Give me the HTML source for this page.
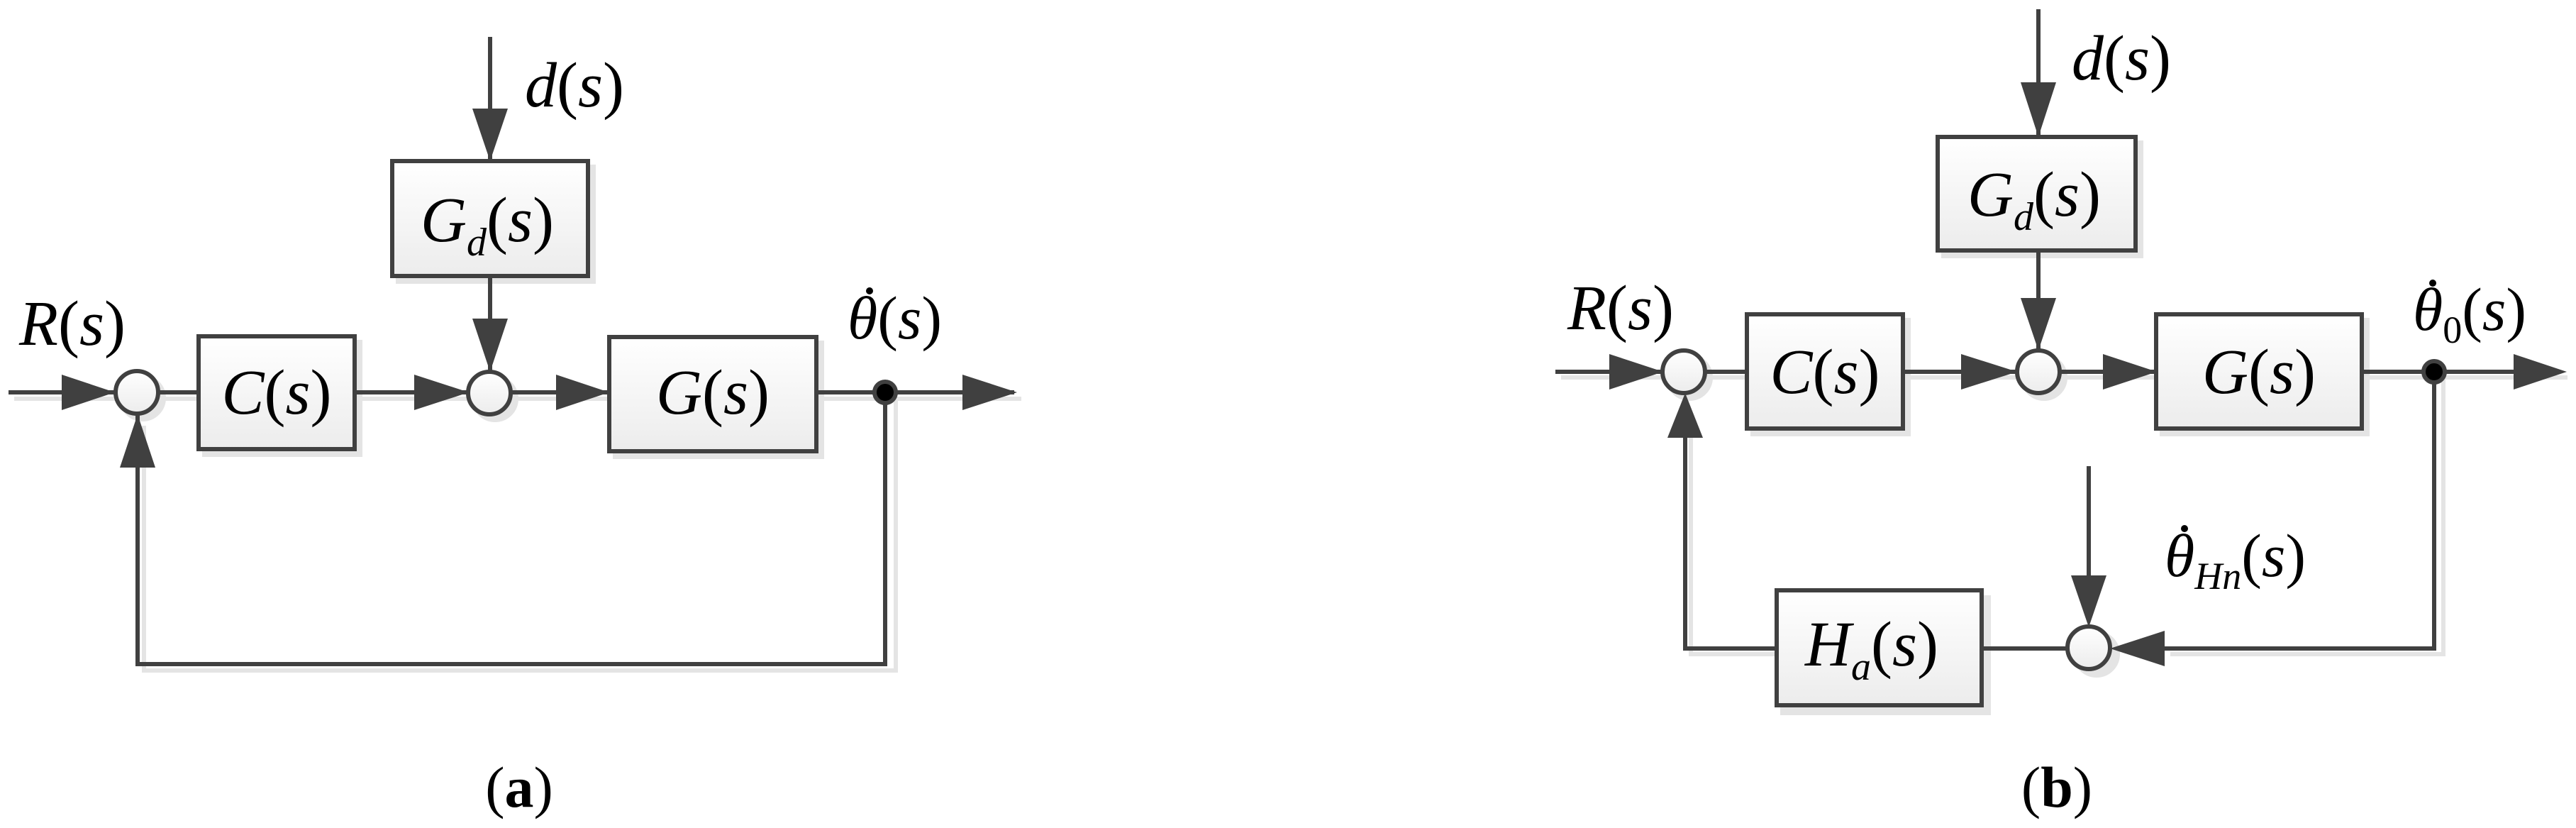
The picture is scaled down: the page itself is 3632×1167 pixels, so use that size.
<!DOCTYPE html>
<html><head><meta charset="utf-8"><style>
html,body{margin:0;padding:0;background:#fff}
svg{display:block}
svg text, svg tspan{font-family:"Liberation Serif","Times New Roman",Times,serif !important;fill:#000}
.i{font-style:italic}
</style></head><body>
<svg width="3632" height="1167" viewBox="0 0 3632 1167" xmlns="http://www.w3.org/2000/svg">
<defs>
<linearGradient id="g" x1="0" y1="0" x2="0" y2="1"><stop offset="0" stop-color="#ffffff"/><stop offset="1" stop-color="#ececec"/></linearGradient>
</defs>

<g fill="#e4e4e4" stroke="#e4e4e4" stroke-width="6">
<rect x="288" y="482" width="220" height="159"/>
<rect x="561" y="235" width="276" height="162"/>
<rect x="867" y="483" width="292" height="161"/>
<circle cx="201" cy="561" r="30"/>
<circle cx="698" cy="562" r="30"/>
<polyline fill="none" points="20,562 1440,562"/>
<polyline fill="none" points="1263,562 1263,945 203,945 203,600"/>
</g>

<g stroke="#404040" stroke-width="6" fill="none">
<line x1="12" y1="553" x2="163" y2="553"/>
<line x1="223" y1="553" x2="280" y2="553"/>
<line x1="500" y1="553" x2="660" y2="553"/>
<line x1="720" y1="553" x2="859" y2="553"/>
<line x1="1151" y1="553" x2="1430" y2="553"/>
<line x1="691" y1="52" x2="691" y2="227"/>
<line x1="691" y1="389" x2="691" y2="523"/>
<polyline points="1248,553 1248,936 194,936 194,585"/>
</g>
<g fill="#404040">
<polygon points="87,528 162,553 87,578"/>
<polygon points="584,528 661,553 584,578"/>
<polygon points="784,528 859,553 784,578"/>
<polygon points="1357,528 1434,553 1357,578"/>
<polygon points="666,153 691,227 716,153"/>
<polygon points="666,449 691,524 716,449"/>
<polygon points="169,659 194,584 219,659"/>
</g>
<g stroke="#404040" stroke-width="6" fill="url(#g)">
<rect x="280" y="474" width="220" height="159"/>
<rect x="553" y="227" width="276" height="162"/>
<rect x="859" y="475" width="292" height="161"/>
<circle cx="193" cy="553" r="30"/>
<circle cx="690" cy="554" r="30"/>
</g>
<circle cx="1248" cy="553" r="15" fill="#000" stroke="#404040" stroke-width="6"/>

<g font-family="Liberation Serif, Times New Roman, serif">
<text x="27" y="486" font-size="90"><tspan class="i">R</tspan>(<tspan class="i">s</tspan>)</text>
<text x="390" y="583" font-size="90" text-anchor="middle"><tspan class="i">C</tspan>(<tspan class="i">s</tspan>)</text>
<text x="1005" y="583" font-size="90" text-anchor="middle"><tspan class="i">G</tspan>(<tspan class="i">s</tspan>)</text>
<text x="740" y="150" font-size="90"><tspan class="i">d</tspan>(<tspan class="i">s</tspan>)</text>
<text x="593" y="340" font-size="90"><tspan class="i">G</tspan><tspan class="i" font-size="56" dy="20">d</tspan><tspan dy="-20">(</tspan><tspan class="i">s</tspan>)</text>
<text x="1195" y="477" font-size="86"><tspan class="i">θ</tspan>(<tspan class="i">s</tspan>)</text>
<text x="732" y="1137" font-size="82" text-anchor="middle">(<tspan font-weight="bold">a</tspan>)</text>
</g>
<circle cx="1226" cy="410" r="5" fill="#000"/>

<g fill="#e4e4e4" stroke="#e4e4e4" stroke-width="6">
<rect x="2471" y="451" width="220" height="161"/>
<rect x="2740" y="201" width="279" height="160"/>
<rect x="3048" y="451" width="290" height="161"/>
<rect x="2513" y="842" width="291" height="163"/>
<circle cx="2382" cy="532" r="30"/>
<circle cx="2882" cy="532" r="30"/>
<circle cx="2956" cy="922" r="30"/>
<polyline fill="none" points="2201,532 3620,532"/>
<polyline fill="none" points="3445,532 3445,922 3060,922"/>
<polyline fill="none" points="2513,922 2384,922 2384,590"/>
</g>

<g stroke="#404040" stroke-width="6" fill="none">
<line x1="2193" y1="524" x2="2344" y2="524"/>
<line x1="2404" y1="524" x2="2463" y2="524"/>
<line x1="2683" y1="524" x2="2844" y2="524"/>
<line x1="2904" y1="524" x2="3040" y2="524"/>
<line x1="3330" y1="524" x2="3610" y2="524"/>
<line x1="2874" y1="13" x2="2874" y2="193"/>
<line x1="2874" y1="353" x2="2874" y2="494"/>
<polyline points="3432,524 3432,914 3040,914"/>
<line x1="2945" y1="657" x2="2945" y2="812"/>
<line x1="2915" y1="914" x2="2796" y2="914"/>
<polyline points="2505,914 2376,914 2376,615"/>
</g>
<g fill="#404040">
<polygon points="2269,499 2345,524 2269,549"/>
<polygon points="2765,499 2844,524 2765,549"/>
<polygon points="2965,499 3041,524 2965,549"/>
<polygon points="3544,499 3619,524 3544,549"/>
<polygon points="2849,116 2874,193 2899,116"/>
<polygon points="2849,420 2874,494 2899,420"/>
<polygon points="2920,811 2945,884 2970,811"/>
<polygon points="3052,889 2975,914 3052,939"/>
<polygon points="2351,617 2376,554 2401,617"/>
</g>
<g stroke="#404040" stroke-width="6" fill="url(#g)">
<rect x="2463" y="443" width="220" height="161"/>
<rect x="2732" y="193" width="279" height="160"/>
<rect x="3040" y="443" width="290" height="161"/>
<rect x="2505" y="832" width="289" height="162"/>
<circle cx="2374" cy="524" r="30"/>
<circle cx="2874" cy="524" r="30"/>
<circle cx="2945" cy="913" r="30"/>
</g>
<circle cx="3432" cy="524" r="15" fill="#000" stroke="#404040" stroke-width="6"/>

<g font-family="Liberation Serif, Times New Roman, serif">
<text x="2210" y="464" font-size="90"><tspan class="i">R</tspan>(<tspan class="i">s</tspan>)</text>
<text x="2573" y="554" font-size="90" text-anchor="middle"><tspan class="i">C</tspan>(<tspan class="i">s</tspan>)</text>
<text x="3185" y="554" font-size="90" text-anchor="middle"><tspan class="i">G</tspan>(<tspan class="i">s</tspan>)</text>
<text x="2921" y="112" font-size="90"><tspan class="i">d</tspan>(<tspan class="i">s</tspan>)</text>
<text x="2774" y="304" font-size="90"><tspan class="i">G</tspan><tspan class="i" font-size="56" dy="20">d</tspan><tspan dy="-20">(</tspan><tspan class="i">s</tspan>)</text>
<text x="2545" y="938" font-size="90"><tspan class="i">H</tspan><tspan class="i" font-size="56" dy="20">a</tspan><tspan dy="-20">(</tspan><tspan class="i">s</tspan>)</text>
<text x="3402" y="465" font-size="86"><tspan class="i">θ</tspan><tspan font-size="54" dy="18">0</tspan><tspan dy="-18">(</tspan><tspan class="i">s</tspan>)</text>
<text x="3052" y="812" font-size="86"><tspan class="i">θ</tspan><tspan class="i" font-size="54" dy="18">Hn</tspan><tspan dy="-18">(</tspan><tspan class="i">s</tspan>)</text>
<text x="2900" y="1137" font-size="82" text-anchor="middle">(<tspan font-weight="bold">b</tspan>)</text>
</g>
<circle cx="3430" cy="399" r="5" fill="#000"/>
<circle cx="3080" cy="745" r="5" fill="#000"/>
</svg>
</body></html>
